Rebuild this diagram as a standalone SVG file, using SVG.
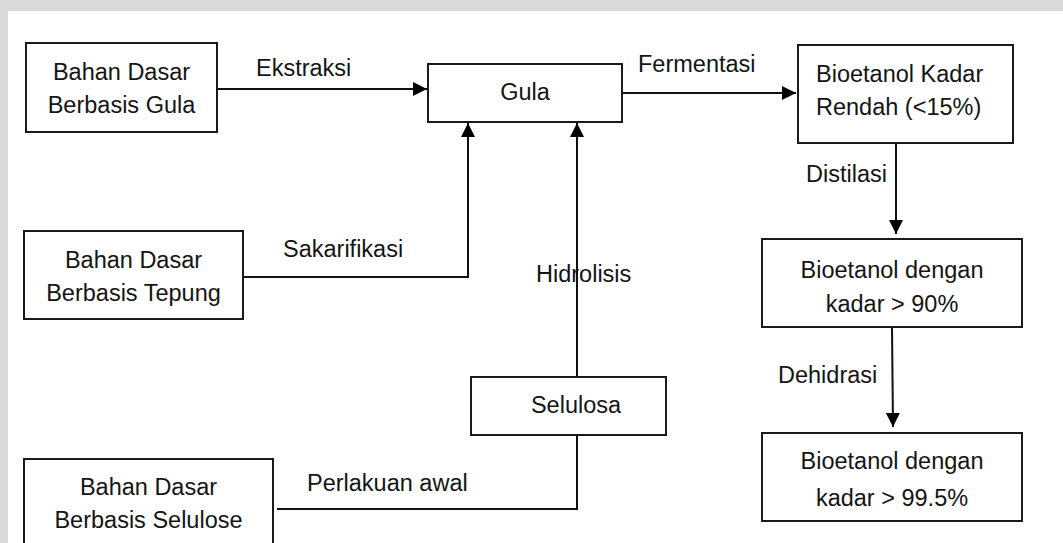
<svg xmlns="http://www.w3.org/2000/svg" width="1063" height="543" viewBox="0 0 1063 543">
<style>
.box{fill:#fff;stroke:#1a1a1a;stroke-width:2}
.t{font-family:"Liberation Sans",Arial,sans-serif;font-size:23.5px;fill:#141414}
.c{text-anchor:middle}
.ln{fill:none;stroke:#111;stroke-width:2}
</style>
<defs>
<marker id="ah" markerUnits="userSpaceOnUse" markerWidth="14" markerHeight="14" refX="14" refY="7" orient="auto">
<path d="M0,0 L14,7 L0,14 z" fill="#000"/>
</marker>
</defs>
<rect x="0" y="0" width="1063" height="543" fill="#d9d9d9"/>
<rect x="8" y="11" width="1055" height="532" fill="#fff"/>

<g id="connectors">
<path class="ln" d="M217,89 H427" marker-end="url(#ah)"/>
<path class="ln" d="M622,93 H796" marker-end="url(#ah)"/>
<path class="ln" d="M243,277 H468 V123" marker-end="url(#ah)"/>
<path class="ln" d="M577,377 V123" marker-end="url(#ah)"/>
<path class="ln" d="M277,509 H577 V435"/>
<path class="ln" d="M896,143 V234" marker-end="url(#ah)"/>
<path class="ln" d="M892,327 L893,427" marker-end="url(#ah)"/>
<text class="t" x="256" y="76">Ekstraksi</text>
<text class="t" x="638" y="72">Fermentasi</text>
<text class="t" x="283" y="257">Sakarifikasi</text>
<text class="t" x="536" y="282">Hidrolisis</text>
<text class="t" x="307" y="491">Perlakuan awal</text>
<text class="t" x="806" y="182">Distilasi</text>
<text class="t" x="778" y="383">Dehidrasi</text>
</g>

<g id="gula-base">
<rect class="box" x="26" y="43" width="191" height="89"/>
<text class="t c" x="121.5" y="80">Bahan Dasar</text>
<text class="t c" x="121.5" y="113">Berbasis Gula</text>
</g>
<g id="tepung-base">
<rect class="box" x="24" y="231" width="219" height="88"/>
<text class="t c" x="133.5" y="268">Bahan Dasar</text>
<text class="t c" x="133.5" y="301">Berbasis Tepung</text>
</g>
<g id="selulose-base">
<rect class="box" x="24" y="459" width="249" height="100"/>
<text class="t c" x="148.5" y="495">Bahan Dasar</text>
<text class="t c" x="148.5" y="528">Berbasis Selulose</text>
</g>
<g id="gula">
<rect class="box" x="428" y="64" width="194" height="58"/>
<text class="t c" x="525" y="100">Gula</text>
</g>
<g id="selulosa">
<rect class="box" x="471" y="377" width="195" height="58"/>
<text class="t c" x="576" y="413">Selulosa</text>
</g>
<g id="bioetanol-rendah">
<rect class="box" x="798" y="45" width="215" height="98"/>
<text class="t" x="816" y="82">Bioetanol Kadar</text>
<text class="t" x="816" y="115">Rendah (&lt;15%)</text>
</g>
<g id="bioetanol-90">
<rect class="box" x="762" y="239" width="260" height="88"/>
<text class="t c" x="892" y="278">Bioetanol dengan</text>
<text class="t c" x="892" y="312">kadar &gt; 90%</text>
</g>
<g id="bioetanol-995">
<rect class="box" x="762" y="433" width="260" height="88"/>
<text class="t c" x="892" y="469">Bioetanol dengan</text>
<text class="t c" x="892" y="506">kadar &gt; 99.5%</text>
</g>
</svg>
